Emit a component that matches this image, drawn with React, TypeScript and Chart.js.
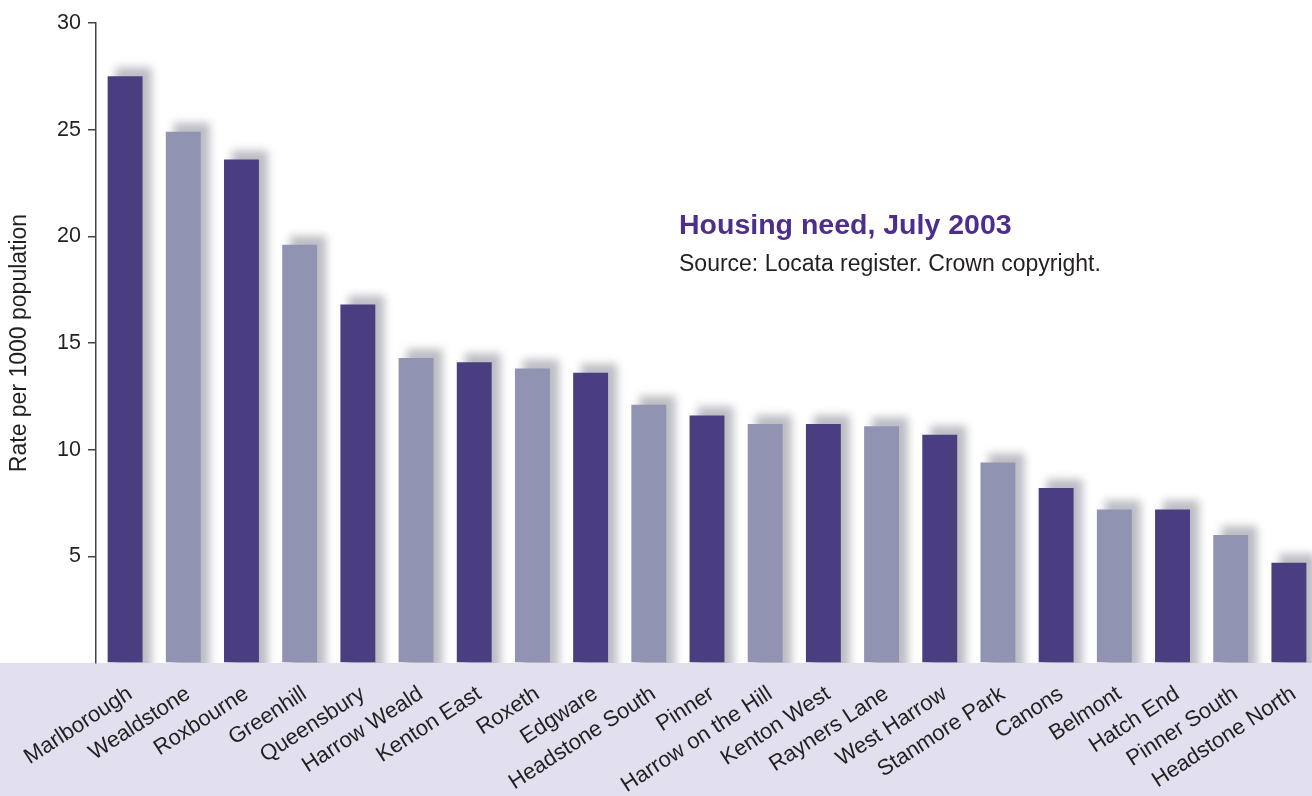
import React, { useEffect, useRef } from "react";
import { Chart, registerables } from "chart.js";

Chart.register(...registerables);

const categories = [
  "Marlborough", "Wealdstone", "Roxbourne", "Greenhill", "Queensbury",
  "Harrow Weald", "Kenton East", "Roxeth", "Edgware", "Headstone South",
  "Pinner", "Harrow on the Hill", "Kenton West", "Rayners Lane", "West Harrow",
  "Stanmore Park", "Canons", "Belmont", "Hatch End", "Pinner South", "Headstone North",
];
const values = [
  27.5, 24.9, 23.6, 19.6, 16.8, 14.3, 14.1, 13.8, 13.6, 12.1,
  11.6, 11.2, 11.2, 11.1, 10.7, 9.4, 8.2, 7.2, 7.2, 6.0, 4.7,
];
const yTicks = [0, 5, 10, 15, 20, 25, 30];
const titleText = "Housing need, July 2003";
const sourceText = "Source: Locata register. Crown copyright.";
const yTitle = "Rate per 1000 population";

const DARK = "#4a3d80";
const LIGHT = "#9094b2";
const BAND = "#e2dfee";
const TEXT = "#231f20";
const FONT = "'Liberation Sans', Arial, Helvetica, sans-serif";

const W = 1318;
const H = 796;

export default function App() {
  const ref = useRef<HTMLCanvasElement | null>(null);

  useEffect(() => {
    const canvas = ref.current;
    if (!canvas) return;

    const bandPlugin = {
      id: "band",
      beforeDraw(chart: any) {
        const { ctx, chartArea } = chart;
        ctx.save();
        ctx.fillStyle = BAND;
        ctx.fillRect(0, chartArea.bottom, chart.width, chart.height - chartArea.bottom);
        ctx.restore();
      },
    };

    const shadowPlugin = {
      id: "barShadow",
      beforeDatasetsDraw(chart: any) {
        const { ctx, chartArea } = chart;
        const meta = chart.getDatasetMeta(0);
        ctx.save();
        ctx.beginPath();
        ctx.rect(chartArea.left, 0, chart.width, chartArea.bottom);
        ctx.clip();
        ctx.filter = "blur(4px)";
        ctx.fillStyle = "#bcbdc4";
        meta.data.forEach((bar: any) => {
          const p = bar.getProps(["x", "y", "base", "width"], true);
          ctx.fillRect(p.x - p.width / 2 + 8, p.y - 9, p.width + 1, p.base - p.y + 20);
        });
        ctx.restore();
      },
    };

    const textPlugin = {
      id: "titles",
      afterDraw(chart: any) {
        const { ctx } = chart;
        ctx.save();
        ctx.textAlign = "left";
        ctx.textBaseline = "alphabetic";
        ctx.fillStyle = "#4e2e8c";
        ctx.font = `bold 28.5px ${FONT}`;
        ctx.fillText(titleText, 679, 234);
        ctx.fillStyle = TEXT;
        ctx.font = `23px ${FONT}`;
        ctx.fillText(sourceText, 679, 271);
        ctx.restore();
      },
    };

    const chart = new Chart(canvas, {
      type: "bar",
      data: {
        labels: categories,
        datasets: [
          {
            data: values,
            backgroundColor: categories.map((_, i) => (i % 2 === 0 ? DARK : LIGHT)),
            borderWidth: 0,
            barPercentage: 0.6,
            categoryPercentage: 1,
            clip: false as any,
          },
        ],
      },
      options: {
        animation: false,
        responsive: false,
        devicePixelRatio: 1,
        layout: { padding: { top: 23, left: 0, right: 0, bottom: 0 } },
        plugins: {
          legend: { display: false },
          tooltip: { enabled: false },
        },
        scales: {
          x: {
            grid: { display: false },
            border: { display: false },
            ticks: {
              autoSkip: false,
              minRotation: 33,
              maxRotation: 33,
              padding: 10,
              labelOffset: 5,
              color: TEXT,
              font: { family: FONT, size: 22 },
            },
            afterFit(scale: any) {
              scale.height = 133;
            },
          },
          y: {
            min: 0,
            max: 30,
            afterBuildTicks(scale: any) {
              scale.ticks = yTicks.map((v) => ({ value: v }));
            },
            ticks: {
              padding: 7,
              color: TEXT,
              font: { family: FONT, size: 21.5 },
              callback: (v: any) => (v === 0 ? "" : String(v)),
            },
            grid: {
              drawOnChartArea: false,
              drawTicks: true,
              tickLength: 8,
              lineWidth: 1.5,
              tickColor: (c: any) => (c.tick && c.tick.value === 0 ? "rgba(0,0,0,0)" : "#444"),
            },
            border: { display: true, color: "#444", width: 1.5 },
            title: {
              display: true,
              text: yTitle,
              color: TEXT,
              font: { family: FONT, size: 23 },
              padding: { top: 6, bottom: 0 },
            },
            afterFit(scale: any) {
              scale.width = 96;
            },
          },
        },
      },
      plugins: [bandPlugin, shadowPlugin, textPlugin],
    });

    return () => chart.destroy();
  }, []);

  return (
    <div style={{ position: "fixed", left: 0, top: 0, width: 1312, height: 796, overflow: "hidden", background: "#fff" }}>
      <canvas ref={ref} width={W} height={H} style={{ width: W, height: H, display: "block" }} />
    </div>
  );
}
